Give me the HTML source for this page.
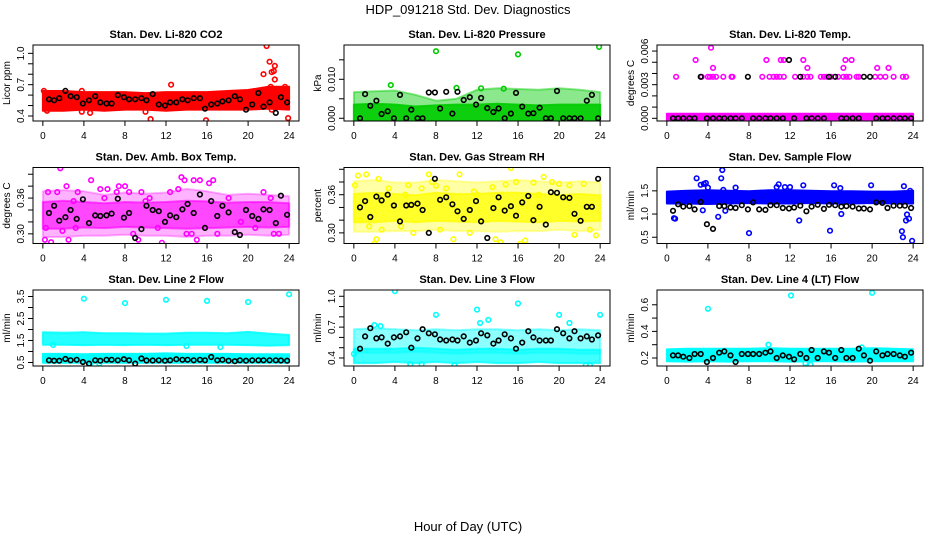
<!DOCTYPE html>
<html><head><meta charset="utf-8">
<style>
html,body{margin:0;padding:0;background:#fff;}
svg{display:block;font-family:"Liberation Sans",sans-serif;}
</style></head>
<body>
<svg id="chart" width="936" height="540" viewBox="0 0 936 540" xmlns="http://www.w3.org/2000/svg">
<rect x="0" y="0" width="936" height="540" fill="#fff"/>
<text x="468" y="14" text-anchor="middle" font-size="13">HDP_091218 Std. Dev. Diagnostics</text>
<text x="468" y="531" text-anchor="middle" font-size="13">Hour of Day (UTC)</text>
</svg>
<script>
const xTicks = [0,4,8,12,16,20,24];
const bandT = [0,2,4,6,8,10,12,14,16,18,20,22,24];
const blackT = [0.6,1.1,1.6,2.2,2.7,3.3,3.9,4.5,5.1,5.6,6.2,6.7,7.3,7.9,8.4,9.0,9.6,10.1,10.7,11.3,11.9,12.4,13.0,13.6,14.1,14.7,15.3,15.8,16.4,17.0,17.5,18.1,18.7,19.2,19.8,20.4,21.0,21.5,22.1,22.7,23.2,23.8];

// Panel 1: CO2
const co2Black = [0.56,0.55,0.57,0.64,0.59,0.58,0.52,0.55,0.59,0.53,0.52,0.52,0.60,0.58,0.56,0.56,0.57,0.55,0.61,0.51,0.50,0.53,0.53,0.56,0.55,0.57,0.57,0.47,0.51,0.52,0.54,0.55,0.59,0.56,0.46,0.51,0.62,0.49,0.53,0.43,0.58,0.53];
const co2Lo = [0.47,0.47,0.48,0.47,0.48,0.48,0.47,0.48,0.48,0.48,0.48,0.49,0.48];
const co2Hi = [0.62,0.62,0.61,0.61,0.61,0.60,0.61,0.61,0.61,0.62,0.63,0.66,0.66];
const co2OutT = [0.1,0.4,3.8,4.6,3.8,10.0,10.5,12.5,15.9,21.5,21.8,22.1,22.6,22.3,22.5,22.6,22.2,23.9,23.6,22.3];
const co2OutV = [0.64,0.45,0.44,0.43,0.64,0.44,0.37,0.70,0.36,0.80,1.07,0.92,0.88,0.82,0.83,0.75,0.68,0.38,0.68,0.46];

// Panel 2: Pressure
const presBlack = [0,0.0062,0.0032,0.0045,0.0011,0.0018,0,0.0060,0,0.0022,0,0,0.0066,0.0066,0.0025,0.0068,0.0012,0.0068,0.0047,0.0054,0.0035,0.0052,0.0026,0.0016,0.0025,0,0.0012,0.0065,0.0030,0.0012,0.0013,0.0027,0,0,0.0070,0,0,0,0,0.0045,0.0060,0];
const presLo = [-0.0002,-0.0002,-0.0002,-0.0002,-0.0002,-0.0002,-0.0002,-0.0002,-0.0002,-0.0002,-0.0002,-0.0002,-0.0002];
const presHi = [0.0062,0.0064,0.0066,0.0055,0.0040,0.0045,0.0068,0.0072,0.0070,0.0068,0.0072,0.0068,0.0062];
const presDenseHi = [0.0030,0.0032,0.0030,0.0025,0.0028,0.0030,0.0030,0.0032,0.0030,0.0028,0.0030,0.0030,0.0030];
const presOutT = [8.0,16.0,23.9,3.6,10.0,14.6,12.4];
const presOutV = [0.0172,0.0164,0.0183,0.0085,0.0078,0.0076,0.0077];

// Panel 3: Li-820 Temp
const tempBlack = [0,0,0,0,0,0.0037,0,0,0,0,0,0,0,0.0037,0,0,0,0,0,0,0.0052,0,0.0037,0,0,0,0,0.0037,0.0037,0,0,0,0,0.0037,0.0037,0,0,0,0,0,0,0];
const tempLo = [-0.00022,-0.00022,-0.00022,-0.00022,-0.00022,-0.00022,-0.00022,-0.00022,-0.00022,-0.00022,-0.00022,-0.00022,-0.00022];
const tempHi = [0.00022,0.00022,0.00022,0.00022,0.00022,0.00022,0.00022,0.00022,0.00022,0.00022,0.00022,0.00022,0.00022];
const tempOutT = [0.9,3.4,4.0,4.2,4.5,4.8,5.5,6.3,6.4,9.3,10.0,10.4,10.7,11.0,11.4,12.5,13.3,13.7,14.0,15.0,15.3,15.6,16.0,16.7,17.2,17.5,17.8,18.5,18.7,20.3,20.8,21.3,22.1,23.0,23.3,2.8,9.7,11.1,11.4,13.3,17.4,18.0,4.5,13.7,17.2,20.5,21.6,4.3];
const tempOutV = [0.0037,0.0037,0.0037,0.0037,0.0037,0.0037,0.0037,0.0037,0.0037,0.0037,0.0037,0.0037,0.0037,0.0037,0.0037,0.0037,0.0037,0.0037,0.0037,0.0037,0.0037,0.0037,0.0037,0.0037,0.0037,0.0037,0.0037,0.0037,0.0037,0.0037,0.0037,0.0037,0.0037,0.0037,0.0037,0.0052,0.0052,0.0052,0.0052,0.0052,0.0052,0.0052,0.0045,0.0045,0.0045,0.0045,0.0045,0.0063];

// Panel 4: Amb box temp
const ambBlack = [0.335,0.347,0.322,0.328,0.340,0.325,0.358,0.318,0.331,0.330,0.331,0.334,0.359,0.327,0.335,0.293,0.308,0.347,0.340,0.338,0.320,0.331,0.328,0.341,0.350,0.335,0.366,0.310,0.355,0.330,0.347,0.336,0.303,0.298,0.340,0.330,0.325,0.341,0.340,0.318,0.364,0.332];
const ambLo = [0.312,0.312,0.314,0.313,0.315,0.314,0.313,0.312,0.313,0.314,0.315,0.314,0.315];
const ambHi = [0.350,0.352,0.350,0.348,0.350,0.349,0.350,0.352,0.351,0.349,0.350,0.350,0.348];
const ambWideLo = [0.298,0.298,0.300,0.300,0.302,0.300,0.300,0.298,0.300,0.300,0.302,0.300,0.302];
const ambWideHi = [0.368,0.370,0.368,0.362,0.366,0.364,0.366,0.372,0.368,0.362,0.364,0.362,0.360];
const ambOutT = [0.2,0.3,0.5,0.8,1.4,1.7,1.8,1.9,2.3,2.5,3.2,3.4,4.6,4.7,5.1,5.6,6.3,7.2,7.4,8.0,8.4,8.8,9.3,9.6,10.4,11.2,11.6,12.4,13.2,13.5,13.8,14.0,14.5,14.7,15.0,15.3,16.2,16.6,17.0,18.1,19.3,20.7,21.5,22.5,23.0,22.2,10.0,3.0,6.0];
const ambOutV = [0.290,0.310,0.370,0.286,0.370,0.410,0.280,0.305,0.380,0.290,0.310,0.370,0.275,0.390,0.275,0.375,0.375,0.370,0.380,0.380,0.370,0.300,0.290,0.370,0.360,0.310,0.285,0.370,0.375,0.395,0.390,0.300,0.300,0.390,0.290,0.390,0.385,0.390,0.300,0.360,0.320,0.310,0.370,0.300,0.300,0.360,0.355,0.355,0.360];

// Panel 5: Gas stream RH
const rhBlack = [0.340,0.350,0.325,0.357,0.351,0.360,0.343,0.318,0.343,0.344,0.346,0.336,0.300,0.385,0.352,0.356,0.345,0.334,0.322,0.336,0.350,0.318,0.292,0.339,0.356,0.335,0.342,0.327,0.348,0.358,0.320,0.341,0.313,0.364,0.363,0.356,0.355,0.330,0.319,0.341,0.341,0.385];
const rhLo = [0.320,0.320,0.322,0.320,0.322,0.321,0.320,0.322,0.321,0.320,0.322,0.321,0.322];
const rhHi = [0.358,0.360,0.358,0.356,0.360,0.358,0.358,0.360,0.360,0.358,0.356,0.358,0.356];
const rhWideLo = [0.305,0.305,0.306,0.306,0.308,0.306,0.306,0.305,0.306,0.306,0.308,0.306,0.308];
const rhWideHi = [0.378,0.380,0.376,0.376,0.380,0.378,0.376,0.378,0.380,0.378,0.376,0.378,0.376];
const rhOutT = [0.1,0.4,1.2,0.6,1.5,2.2,2.4,2.0,2.7,3.4,4.6,5.3,5.8,6.6,7.3,7.6,8.0,8.4,9.0,9.7,10.3,11.3,12.0,13.5,13.8,14.3,14.8,15.3,15.8,16.2,16.7,17.5,18.5,19.3,20.0,21.0,21.5,22.4,23.0,23.6,11.7,5.0,18.0];
const rhOutV = [0.375,0.390,0.392,0.320,0.310,0.290,0.385,0.283,0.305,0.370,0.310,0.375,0.300,0.370,0.392,0.380,0.374,0.305,0.370,0.290,0.392,0.300,0.360,0.372,0.290,0.285,0.376,0.402,0.380,0.283,0.288,0.379,0.388,0.380,0.377,0.375,0.297,0.377,0.305,0.296,0.365,0.360,0.360];

// Panel 6: Sample flow
const flowBlack = [1.07,1.21,1.16,1.17,1.10,1.26,0.78,0.68,1.17,1.17,1.14,1.13,1.19,1.10,1.25,1.10,1.09,1.19,1.19,1.13,1.12,1.14,1.18,1.06,1.16,1.20,1.11,1.20,1.19,1.16,1.17,1.16,1.12,1.12,1.10,1.25,1.24,1.13,1.18,1.18,1.18,1.13];
const flowLo = [1.27,1.27,1.26,1.27,1.28,1.27,1.27,1.28,1.27,1.27,1.28,1.27,1.27];
const flowHi = [1.44,1.46,1.47,1.46,1.45,1.47,1.47,1.46,1.45,1.45,1.44,1.44,1.46];
const flowOutT = [0.7,0.8,2.9,3.3,3.5,3.6,3.8,4.0,5.0,5.3,5.4,5.5,5.7,6.7,8.0,10.7,10.9,11.5,12.0,12.9,13.3,15.9,16.3,16.9,17.0,19.9,22.9,23.0,23.1,23.3,23.4,23.6,23.7,23.9];
const flowOutV = [0.91,0.90,1.77,1.63,1.08,1.65,1.67,1.57,0.94,1.77,1.95,1.52,1.07,1.57,0.59,1.58,1.64,1.58,1.58,0.86,1.62,0.64,1.62,1.56,1.00,1.62,0.63,0.50,1.60,0.86,0.99,0.90,1.50,0.42];

// Panel 7: Line 2 flow
const l2Black = [0.60,0.58,0.58,0.66,0.60,0.62,0.52,0.45,0.60,0.58,0.62,0.62,0.60,0.65,0.60,0.45,0.68,0.59,0.59,0.60,0.58,0.60,0.65,0.62,0.62,0.60,0.62,0.60,0.75,0.60,0.62,0.58,0.56,0.60,0.58,0.60,0.60,0.60,0.60,0.60,0.59,0.58];
const l2UpLo = [1.40,1.40,1.38,1.40,1.38,1.40,1.38,1.40,1.40,1.40,1.38,1.36,1.38];
const l2UpHi = [1.78,1.76,1.78,1.74,1.74,1.72,1.72,1.76,1.76,1.74,1.80,1.72,1.66];
const l2DnLo = [0.58,0.58,0.58,0.58,0.58,0.58,0.58,0.58,0.58,0.58,0.58,0.58,0.58];
const l2DnHi = [0.80,0.80,0.78,0.80,0.80,0.80,0.82,0.80,0.80,0.80,0.78,0.78,0.78];
const l2OutT = [4.0,8.0,12.0,16.0,20.0,24.0,17.3,4.6,5.5,1.0,14.0];
const l2OutV = [3.40,3.20,3.35,3.30,3.25,3.60,1.20,0.45,0.45,1.30,1.25];

// Panel 8: Line 3 flow
const l3Black = [0.49,0.61,0.69,0.59,0.60,0.54,0.60,0.61,0.65,0.50,0.59,0.68,0.64,0.63,0.58,0.57,0.58,0.57,0.61,0.55,0.57,0.64,0.62,0.54,0.57,0.63,0.59,0.49,0.55,0.66,0.60,0.57,0.57,0.57,0.68,0.64,0.59,0.66,0.59,0.61,0.58,0.62];
const l3Lo = [0.37,0.37,0.38,0.37,0.38,0.37,0.38,0.37,0.37,0.38,0.37,0.37,0.37];
const l3Hi = [0.47,0.47,0.47,0.48,0.47,0.46,0.47,0.47,0.46,0.47,0.47,0.46,0.46];
const l3UpLo = [0.47,0.47,0.47,0.48,0.47,0.46,0.47,0.47,0.46,0.47,0.47,0.46,0.46];
const l3UpHi = [0.66,0.67,0.66,0.65,0.66,0.65,0.66,0.66,0.65,0.66,0.65,0.66,0.65];
const l3OutT = [4.0,8.0,12.0,12.3,13.1,16.0,20.0,21.0,24.0,2.0,2.6,9.8,5.5,6.6,22.6,23.0,0.0];
const l3OutV = [1.05,0.82,0.87,0.74,0.77,0.93,0.82,0.74,0.82,0.72,0.71,0.33,0.34,0.34,0.33,0.33,0.44];

// Panel 9: Line 4 flow
const l4Black = [0.22,0.22,0.21,0.20,0.23,0.23,0.17,0.20,0.24,0.25,0.22,0.17,0.23,0.23,0.23,0.23,0.24,0.25,0.20,0.22,0.21,0.19,0.23,0.20,0.26,0.20,0.25,0.24,0.20,0.26,0.20,0.20,0.27,0.22,0.18,0.25,0.22,0.23,0.23,0.22,0.21,0.24];
const l4Lo = [0.190,0.188,0.190,0.188,0.190,0.190,0.188,0.190,0.190,0.188,0.190,0.190,0.190];
const l4Hi = [0.250,0.255,0.255,0.255,0.255,0.258,0.255,0.255,0.255,0.255,0.258,0.255,0.250];
const l4OutT = [4.0,12.1,20.0,9.9,19.0,14.0,13.5];
const l4OutV = [0.57,0.67,0.69,0.30,0.28,0.15,0.16];

const panels = [
 {name:'co2',title:'Stan. Dev. Li-820 CO2',ylab:'Licor ppm',col:0,row:0,ymin:0.352,ymax:1.08,color:'#ff0000',
  ticks:[0.4,0.5,0.6,0.7,0.8,0.9,1.0],labels:['0.4','0.7','1.0'],labelVals:[0.4,0.7,1.0],
  bands:[[co2Lo,co2Hi,1]],outT:co2OutT,outV:co2OutV,black:co2Black},
 {name:'pressure',title:'Stan. Dev. Li-820 Pressure',ylab:'kPa',col:1,row:0,ymin:-0.0007,ymax:0.0188,color:'#00cc00',
  ticks:[0,0.005,0.010,0.015],labels:['0.000','0.010'],labelVals:[0,0.010],
  bands:[[presLo,presHi,0.45],[presLo,presDenseHi,0.9]],outT:presOutT,outV:presOutV,black:presBlack},
 {name:'li820-temp',title:'Stan. Dev. Li-820 Temp.',ylab:'degrees C',col:2,row:0,ymin:-0.00024,ymax:0.00654,color:'#ff00ff',
  ticks:[0,0.001,0.002,0.003,0.004,0.005,0.006],labels:['0.000','0.003','0.006'],labelVals:[0,0.003,0.006],
  bands:[[tempLo,tempHi,1]],outT:tempOutT,outV:tempOutV,black:tempBlack},
 {name:'amb-box-temp',title:'Stan. Dev. Amb. Box Temp.',ylab:'degrees C',col:0,row:1,ymin:0.2838,ymax:0.4113,color:'#ff00ff',
  ticks:[0.30,0.32,0.34,0.36,0.38,0.40],labels:['0.30','0.36'],labelVals:[0.30,0.36],
  bands:[[ambWideLo,ambWideHi,0.3],[ambLo,ambHi,0.6]],outT:ambOutT,outV:ambOutV,black:ambBlack},
 {name:'gas-rh',title:'Stan. Dev. Gas Stream RH',ylab:'percent',col:1,row:1,ymin:0.2833,ymax:0.4028,color:'#ffff00',
  ticks:[0.30,0.32,0.34,0.36,0.38,0.40],labels:['0.30','0.36'],labelVals:[0.30,0.36],
  bands:[[rhWideLo,rhWideHi,0.35],[rhLo,rhHi,0.75]],outT:rhOutT,outV:rhOutV,black:rhBlack},
 {name:'sample-flow',title:'Stan. Dev. Sample Flow',ylab:'ml/min',col:2,row:1,ymin:0.365,ymax:2.003,color:'#0000ff',
  ticks:[0.5,1.0,1.5],labels:['0.5','1.0','1.5'],labelVals:[0.5,1.0,1.5],
  bands:[[flowLo,flowHi,1]],outT:flowOutT,outV:flowOutV,black:flowBlack},
 {name:'line2-flow',title:'Stan. Dev. Line 2 Flow',ylab:'ml/min',col:0,row:2,ymin:0.34,ymax:3.795,color:'#00ffff',
  ticks:[0.5,1.0,1.5,2.0,2.5,3.0,3.5],labels:['0.5','1.5','2.5','3.5'],labelVals:[0.5,1.5,2.5,3.5],
  bands:[[l2UpLo,l2UpHi,0.85],[l2DnLo,l2DnHi,1]],outT:l2OutT,outV:l2OutV,black:l2Black},
 {name:'line3-flow',title:'Stan. Dev. Line 3 Flow',ylab:'ml/min',col:1,row:2,ymin:0.322,ymax:1.061,color:'#00ffff',
  ticks:[0.4,0.5,0.6,0.7,0.8,0.9,1.0],labels:['0.4','0.7','1.0'],labelVals:[0.4,0.7,1.0],
  bands:[[l3UpLo,l3UpHi,0.45],[l3Lo,l3Hi,0.75]],outT:l3OutT,outV:l3OutV,black:l3Black},
 {name:'line4-flow',title:'Stan. Dev. Line 4 (LT) Flow',ylab:'ml/min',col:2,row:2,ymin:0.14,ymax:0.711,color:'#00ffff',
  ticks:[0.2,0.3,0.4,0.5,0.6],labels:['0.2','0.4','0.6'],labelVals:[0.2,0.4,0.6],
  bands:[[l4Lo,l4Hi,1]],outT:l4OutT,outV:l4OutV,black:l4Black}
];

const NS = 'http://www.w3.org/2000/svg';
const svg = document.getElementById('chart');
const colLeft = [33,344,657];
const rowTop = [45,167.5,290];
const boxW = 266, boxH = 76;
function mk(tag, attrs, parent){
  const e = document.createElementNS(NS, tag);
  for (const k in attrs) e.setAttribute(k, attrs[k]);
  (parent||svg).appendChild(e);
  return e;
}
panels.forEach(p => {
  const L = colLeft[p.col], T = rowTop[p.row];
  const xs = t => L + (t + 0.96) / 25.92 * boxW;
  const ys = v => T + boxH - (v - p.ymin) / (p.ymax - p.ymin) * boxH;
  const g = mk('g', {});
  
  
  const clipId = 'clip-' + p.name;
  const cp = mk('clipPath', {id: clipId}, g);
  mk('rect', {x: L, y: T, width: boxW, height: boxH}, cp);
  const plot = mk('g', {'clip-path': 'url(#' + clipId + ')'}, g);
  
  
  p.bands.forEach((b, bi) => {
    const lo = b[0], hi = b[1];
    let d = '';
    bandT.forEach((t, i) => { d += (i ? 'L' : 'M') + xs(t).toFixed(1) + ',' + (ys(hi[i]) - 2).toFixed(1); });
    for (let i = bandT.length - 1; i >= 0; i--) d += 'L' + xs(bandT[i]).toFixed(1) + ',' + (ys(lo[i]) + 2).toFixed(1);
    d += 'Z';
    const path = mk('path', {d: d, fill: p.color, 'fill-opacity': b[2], stroke: p.color, 'stroke-width': 2, 'stroke-opacity': b[2], 'stroke-linejoin': 'round'}, plot);
    
    
  });
  p.outT.forEach((t, i) => {
    const c = mk('circle', {cx: xs(t).toFixed(1), cy: ys(p.outV[i]).toFixed(1), r: 2.3, fill: 'none', stroke: p.color, 'stroke-width': 1.6}, plot);
    
    
  });
  blackT.forEach((t, i) => {
    const c = mk('circle', {cx: xs(t).toFixed(1), cy: ys(p.black[i]).toFixed(1), r: 2.3, fill: 'none', stroke: '#000', 'stroke-width': 1.6}, plot);
    
    
  });
  const box = mk('rect', {x: L, y: T, width: boxW, height: boxH, fill: 'none', stroke: '#000', 'stroke-width': 1}, g);
  
  
  xTicks.forEach(t => {
    const x = xs(t);
    const tk = mk('line', {x1: x, x2: x, y1: T + boxH, y2: T + boxH + 5, stroke: '#000', 'stroke-width': 1}, g);
    
    
    const lb = mk('text', {x: x, y: T + boxH + 18, 'text-anchor': 'middle', 'font-size': 10}, g);
    lb.textContent = t;
    
    
  });
  p.ticks.forEach(v => {
    const y = ys(v);
    const tk = mk('line', {x1: L - 5, x2: L, y1: y, y2: y, stroke: '#000', 'stroke-width': 1}, g);
    
    
  });
  p.labelVals.forEach((v, i) => {
    const y = ys(v);
    const lb = mk('text', {x: 0, y: 0, 'text-anchor': 'middle', 'font-size': 10, transform: 'translate(' + (L - 9) + ',' + y.toFixed(1) + ') rotate(-90)'}, g);
    lb.textContent = p.labels[i];
    
    
  });
  const yl = mk('text', {x: 0, y: 0, 'text-anchor': 'middle', 'font-size': 10, transform: 'translate(' + (L - 23) + ',' + (T + boxH / 2) + ') rotate(-90)'}, g);
  yl.textContent = p.ylab;
  
  
  const tt = mk('text', {x: L + boxW / 2, y: T - 7, 'text-anchor': 'middle', 'font-size': 11, 'font-weight': 'bold'}, g);
  tt.textContent = p.title;
  
  
});
</script>
</body></html>
